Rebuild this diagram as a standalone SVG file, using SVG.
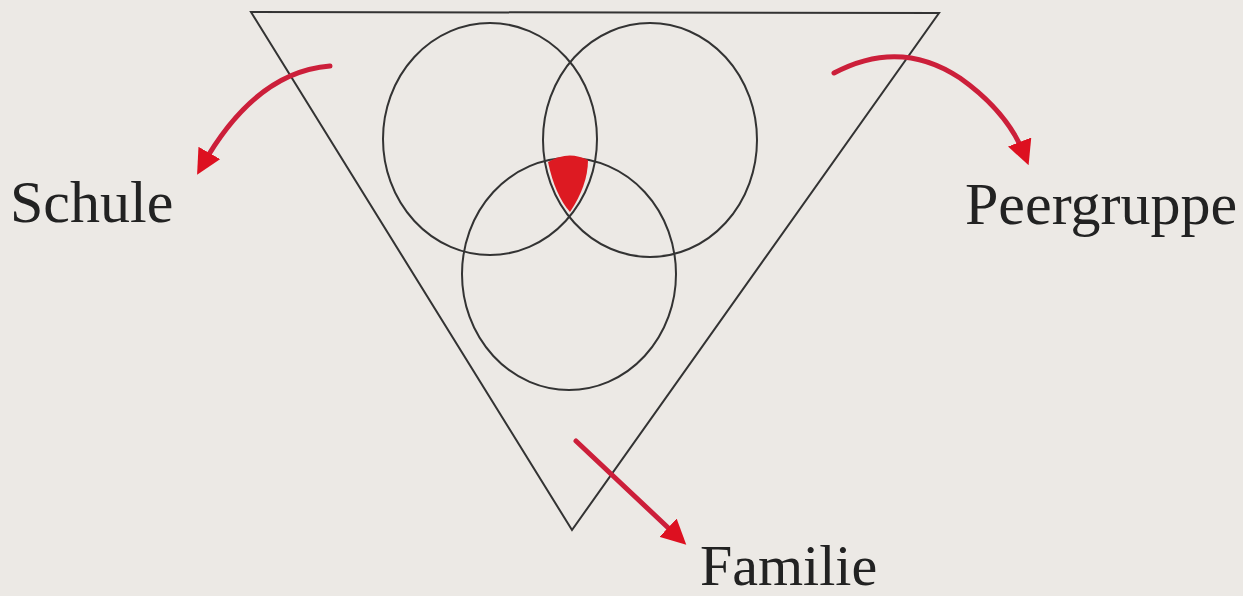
<svg xmlns="http://www.w3.org/2000/svg" width="1243" height="596" viewBox="0 0 1243 596">
<defs>
<style>
.ln{fill:none;stroke:#333;stroke-width:2}
.ar{fill:none;stroke:#cc1f3a;stroke-width:5;stroke-linecap:round}
.lb{font-family:"Liberation Serif",serif;fill:#222}
</style>
<marker id="ah" viewBox="0 0 10 10" refX="6" refY="5" markerWidth="5" markerHeight="5" orient="auto" markerUnits="strokeWidth">
<path d="M0,0 L10,5 L0,10 z" fill="#dd1020"/>
</marker>
</defs>
<rect width="1243" height="596" fill="#ece9e5"/>
<g id="triangle"><polygon class="ln" points="251,12 939,13 572,530"/></g>
<g id="circle-left"><ellipse class="ln" cx="490" cy="139" rx="107" ry="116"/></g>
<g id="circle-right"><ellipse class="ln" cx="650" cy="140" rx="107" ry="117"/></g>
<g id="circle-bottom"><ellipse class="ln" cx="569" cy="274" rx="107" ry="116"/></g>
<g id="center-mark"><path d="M548,162 Q568,150 588,160 Q588,185 570,212 Q555,195 548,162 z" fill="#dd1a22"/></g>
<g id="connectors">
<path class="ar" d="M330,66 Q255,72 202,166" marker-end="url(#ah)"/>
<path class="ar" d="M834,73 Q900,38 960,78 Q1008,112 1025,156" marker-end="url(#ah)"/>
<path class="ar" d="M576,441 L679,538" marker-end="url(#ah)"/>
</g>
<g id="schule"><text class="lb" x="10" y="222" font-size="60">Schule</text></g>
<g id="peergruppe"><text class="lb" x="965" y="224" font-size="60">Peergruppe</text></g>
<g id="familie"><text class="lb" x="700" y="585" font-size="58">Familie</text></g>
</svg>
